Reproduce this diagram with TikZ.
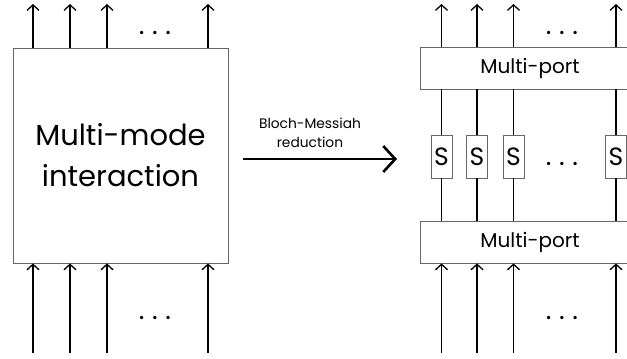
\documentclass[tikz,border=0pt]{standalone}
\usepackage{fontspec}
\setmainfont{Poppins}
\usetikzlibrary{arrows.meta}

\tikzset{
  box/.style={draw=black!60, line width=0.8pt, inner sep=0pt},
  sbox/.style={box, minimum width=21pt, minimum height=43pt, font=\fontsize{25}{30}\selectfont},
  portbox/.style={box, minimum width=220pt, minimum height=42pt, font=\fontsize{20}{24}\selectfont},
  dotrow/.style={anchor=base, inner sep=0pt, font=\fontsize{27}{30}\selectfont},
}

\begin{document}
\begin{tikzpicture}[x=1pt, y=-1pt, line width=1.3pt, >={Straight Barb[length=5.5pt,width=12pt]}]
    \useasboundingbox (0,0) rectangle (627,359);

    % left: the full interaction
    \node[box, minimum width=215pt, minimum height=215pt, align=center, font=\fontsize{29}{41}\selectfont] at (120.5,155.5) (MM) {Multi-mode\\interaction};
    \foreach \i/\x in {1/33,2/70,3/107,4/208} {
        \coordinate (lt\i) at (\x,4);
        \coordinate (lb\i) at (\x,353);
        \draw[->] (MM.north -| lt\i) -- (lt\i);
        \draw[->] (lb\i) -- (MM.south -| lb\i);
    }
    \node[dotrow] at (155,34) (dlt) {.\hskip7.5pt.\hskip7.5pt.};
    \node[dotrow] at (155,319) (dlb) {.\hskip7.5pt.\hskip7.5pt.};

    % reduction arrow
    \coordinate (bmA) at (243,159);
    \coordinate (bmB) at (397,159);
    \draw[->, line width=2.6pt, >={Straight Barb[length=12pt,width=26pt]}] (bmA) -- (bmB);
    \node[align=center, font=\fontsize{13.8}{19}\selectfont, inner sep=0pt] at (310,133) (bmlabel) {Bloch-Messiah\\reduction};

    % right: multi-ports and squeezers
    \node[portbox] at (530,68) (MPt) {Multi-port};
    \node[portbox] at (530,242) (MPb) {Multi-port};
    \foreach \i/\x in {1/441.5,2/477,3/513.5,4/616} {
        \node[sbox] at (\x,156.5) (S\i) {S};
        \coordinate (rt\i) at (\x,4);
        \coordinate (rb\i) at (\x,353);
        \draw[->] (MPt.north -| S\i) -- (rt\i);
        \draw (MPt.south -| S\i) -- (S\i);
        \draw (S\i) -- (MPb.north -| S\i);
        \draw[->] (rb\i) -- (MPb.south -| S\i);
    }
    \node[dotrow] at (562,34) (drt) {.\hskip7.5pt.\hskip7.5pt.};
    \node[dotrow] at (562,165) (drm) {.\hskip7.5pt.\hskip7.5pt.};
    \node[dotrow] at (562,319) (drb) {.\hskip7.5pt.\hskip7.5pt.};
\end{tikzpicture}
\end{document}
